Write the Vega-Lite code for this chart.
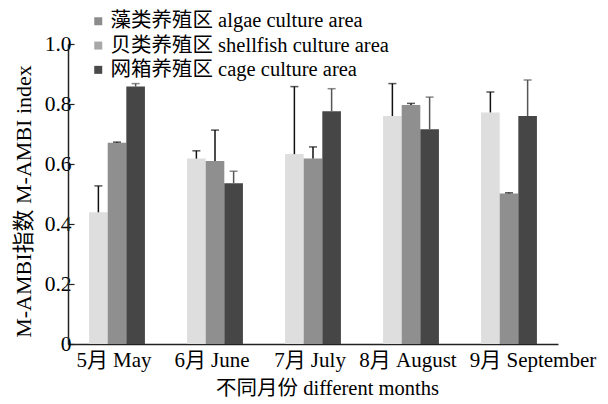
{
  "$schema": "https://vega.github.io/schema/vega-lite/v6.json",
  "width": 490,
  "height": 300,
  "autosize": {"type": "none"},
  "padding": {"left": 68, "top": 44, "right": 50, "bottom": 60},
  "background": "white",
  "config": {
    "view": {"stroke": null},
    "font": "'Liberation Serif', 'Noto Sans CJK SC', serif",
    "axis": {
      "labelFont": "'Liberation Serif', 'Noto Sans CJK SC', serif",
      "titleFont": "'Liberation Serif', 'Noto Sans CJK SC', serif",
      "labelFontSize": 21,
      "titleFontSize": 20.5,
      "labelColor": "#000",
      "titleColor": "#000",
      "titleFontWeight": "normal",
      "domainColor": "#222",
      "domainWidth": 1.5,
      "tickColor": "#222",
      "tickWidth": 1.2,
      "labelLimit": 400,
      "grid": false
    },
    "legend": {
      "labelFont": "'Liberation Serif', 'Noto Sans CJK SC', serif",
      "labelFontSize": 20.5,
      "labelColor": "#000",
      "labelLimit": 500
    }
  },
  "data": {
    "values": [
      {"month": "5月 May", "group": "algae", "value": 0.439, "upper": 0.527},
      {"month": "5月 May", "group": "shellfish", "value": 0.671, "upper": 0.673},
      {"month": "5月 May", "group": "cage", "value": 0.858, "upper": 0.868},
      {"month": "6月 June", "group": "algae", "value": 0.618, "upper": 0.644},
      {"month": "6月 June", "group": "shellfish", "value": 0.61, "upper": 0.713},
      {"month": "6月 June", "group": "cage", "value": 0.536, "upper": 0.576},
      {"month": "7月 July", "group": "algae", "value": 0.633, "upper": 0.858},
      {"month": "7月 July", "group": "shellfish", "value": 0.618, "upper": 0.657},
      {"month": "7月 July", "group": "cage", "value": 0.776, "upper": 0.851},
      {"month": "8月 August", "group": "algae", "value": 0.76, "upper": 0.868},
      {"month": "8月 August", "group": "shellfish", "value": 0.797, "upper": 0.802},
      {"month": "8月 August", "group": "cage", "value": 0.716, "upper": 0.823},
      {"month": "9月 September", "group": "algae", "value": 0.772, "upper": 0.84},
      {"month": "9月 September", "group": "shellfish", "value": 0.502, "upper": 0.504},
      {"month": "9月 September", "group": "cage", "value": 0.76, "upper": 0.88}
    ]
  },
  "encoding": {
    "x": {
      "field": "month",
      "type": "nominal",
      "sort": ["5月 May", "6月 June", "7月 July", "8月 August", "9月 September"],
      "scale": {"paddingInner": 0.43, "paddingOuter": 0.215},
      "axis": {
        "title": "不同月份 different months",
        "labelAngle": 0,
        "tickSize": -4,
        "labelPadding": 9,
        "labelOffset": {"condition": {"test": "datum.value === '9月 September'", "value": 24}, "value": -3},
        "titlePadding": 8,
        "titleX": 259,
        "titleAlign": "center"
      }
    },
    "xOffset": {"field": "group", "type": "nominal", "sort": ["algae", "shellfish", "cage"]}
  },
  "layer": [
    {
      "mark": {"type": "bar", "opacity": 0},
      "encoding": {
        "y": {"field": "value", "type": "quantitative"},
        "color": {
          "field": "group",
          "type": "nominal",
          "scale": {
            "domain": ["algae", "shellfish", "cage"],
            "range": ["#8c8c8c", "#a8a8a8", "#4a4a4a"]
          },
          "legend": {
            "title": null,
            "orient": "none",
            "legendX": 20,
            "legendY": -33,
            "symbolType": "square",
            "symbolSize": 64,
            "symbolOpacity": 1,
            "symbolStrokeWidth": 0,
            "labelFont": "'Liberation Serif', 'Noto Sans CJK SC', serif",
            "labelOffset": 2,
            "rowPadding": 3.3,
            "labelExpr": "datum.value === 'algae' ? '藻类养殖区 algae culture area' : datum.value === 'shellfish' ? '贝类养殖区 shellfish culture area' : '网箱养殖区 cage culture area'"
          }
        }
      }
    },
    {
      "mark": {"type": "bar"},
      "encoding": {
        "y": {
          "field": "value",
          "type": "quantitative",
          "scale": {"domain": [0, 1]},
          "axis": {
            "title": "M-AMBI指数 M-AMBI index",
            "titleFont": "'Liberation Serif', 'Noto Sans CJK SC', serif",
            "titleFontSize": 22,
            "labelFontSize": 21.5,
            "values": [0, 0.2, 0.4, 0.6, 0.8, 1.0],
            "labelExpr": "datum.value === 0 ? '0' : format(datum.value, '.1f')",
            "tickSize": -6,
            "labelPadding": 3,
            "titleX": -45,
            "titleY": 157,
            "titleAlign": "center",
            "titleBaseline": "middle",
            "titleAngle": -90
          }
        },
        "fill": {
          "field": "group",
          "type": "nominal",
          "scale": {
            "domain": ["algae", "shellfish", "cage"],
            "range": ["#dedede", "#8f8f8f", "#464646"]
          },
          "legend": null
        }
      }
    },
    {
      "mark": {"type": "rule", "strokeWidth": 1.5},
      "encoding": {
        "y": {"field": "value", "type": "quantitative"},
        "y2": {"field": "upper"},
        "color": {"condition": {"test": "datum.group === 'cage'", "value": "#555555"}, "value": "#111111"}
      }
    },
    {
      "mark": {"type": "tick", "orient": "horizontal", "size": 8, "thickness": 1.5},
      "encoding": {
        "y": {"field": "upper", "type": "quantitative"},
        "color": {"condition": {"test": "datum.group === 'cage'", "value": "#555555"}, "value": "#111111"}
      }
    }
  ]
}
